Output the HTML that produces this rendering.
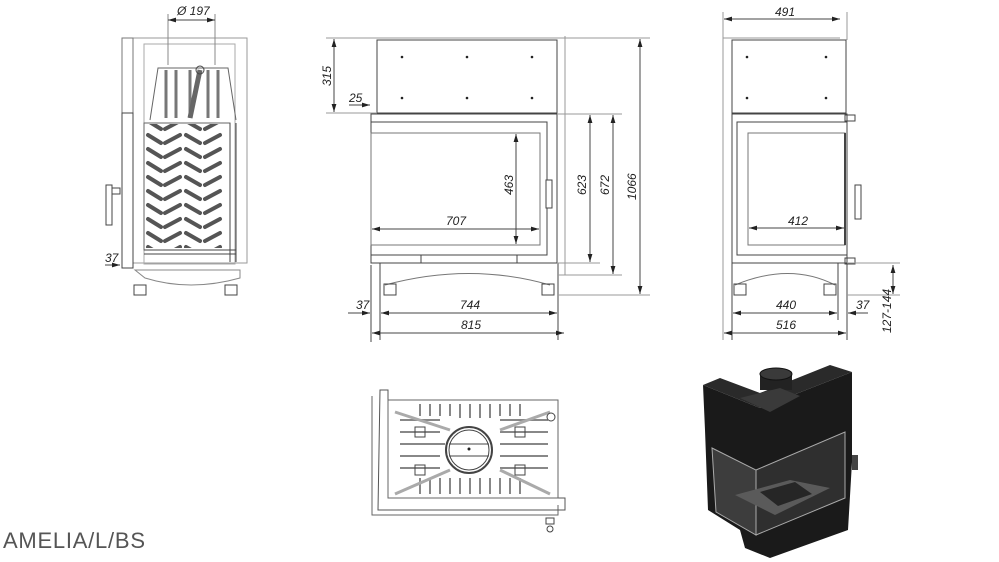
<!DOCTYPE html>
<html><head><meta charset="utf-8"><style>
html,body{margin:0;padding:0;background:#fff;width:999px;height:562px;overflow:hidden}
svg{display:block}
text{font-family:"Liberation Sans",sans-serif;font-style:italic;font-size:12px;fill:#222}
</style></head><body>
<svg width="999" height="562" viewBox="0 0 999 562" xmlns="http://www.w3.org/2000/svg">
<defs>
<marker id="a" viewBox="0 0 10 6" refX="10" refY="3" markerWidth="8" markerHeight="5" orient="auto-start-reverse"><path d="M0,0L10,3L0,6z" fill="#222"/></marker>
<pattern id="hb" x="145" y="132" width="80" height="14" patternUnits="userSpaceOnUse">
<g stroke="#555" stroke-width="4" stroke-linecap="round">
<line x1="3" y1="3" x2="16" y2="11"/><line x1="20" y1="11" x2="35" y2="3"/><line x1="41" y1="3" x2="55" y2="11"/><line x1="60" y1="11" x2="75" y2="3"/></g></pattern>
</defs>
<g fill="none" stroke="#444" stroke-width="1">
<!-- LEFT VIEW -->
<rect x="133" y="38" width="114" height="225" stroke="#999"/>
<rect x="122" y="38" width="11" height="75" stroke="#777"/>
<rect x="122" y="113" width="11" height="155"/>
<rect x="144" y="44" width="91" height="220" stroke="#aaa"/>
<line x1="168" y1="14" x2="168" y2="65" stroke="#888"/><line x1="215" y1="14" x2="215" y2="65" stroke="#888"/>
<path d="M150 120 L158 68 L228 68 L236 120" stroke="#666"/>
<g stroke="#777" stroke-width="3"><line x1="166" y1="70" x2="166" y2="118"/><line x1="176" y1="70" x2="176" y2="118"/><line x1="190" y1="70" x2="190" y2="118"/><line x1="208" y1="70" x2="208" y2="118"/><line x1="218" y1="70" x2="218" y2="118"/></g>
<line x1="200" y1="70" x2="190" y2="118" stroke="#666" stroke-width="5"/>
<circle cx="200" cy="70" r="4"/>
<rect x="144" y="123" width="86" height="127" stroke="#666"/>
<rect x="145" y="124" width="80" height="124" fill="url(#hb)" stroke="none"/>
<line x1="230" y1="123" x2="230" y2="262"/><line x1="236" y1="123" x2="236" y2="262"/>
<line x1="144" y1="250" x2="236" y2="250"/><line x1="144" y1="254" x2="236" y2="254"/>
<rect x="106" y="185" width="6" height="40" fill="#fff"/><rect x="112" y="188" width="8" height="6"/>
<path d="M135 270 L240 270 L240 278 Q190 292 145 278 Z" stroke="#888"/>
<rect x="134" y="285" width="12" height="10"/><rect x="225" y="285" width="12" height="10"/>
<line x1="105" y1="265" x2="120" y2="265" marker-end="url(#a)"/>
<line x1="168" y1="20" x2="215" y2="20" marker-start="url(#a)" marker-end="url(#a)"/>
<!-- FRONT VIEW -->
<rect x="377" y="40" width="180" height="73"/>
<line x1="565" y1="36" x2="565" y2="275" stroke="#999"/><line x1="557" y1="38" x2="565" y2="38" stroke="#999"/>
<rect x="371" y="114" width="186" height="149"/>
<rect x="371" y="122" width="176" height="133"/>
<rect x="371" y="133" width="169" height="112" stroke="#777"/>
<rect x="546" y="180" width="6" height="28" fill="#fff"/>
<rect x="421" y="255" width="96" height="8"/>
<line x1="380" y1="263" x2="380" y2="340"/><line x1="558" y1="263" x2="558" y2="340"/>
<line x1="371" y1="265" x2="371" y2="342"/>
<path d="M385 285 Q470 262 550 285" stroke="#777"/>
<rect x="384" y="284" width="12" height="11"/><rect x="542" y="284" width="12" height="11"/>
<g stroke="#999"><line x1="326" y1="38" x2="650" y2="38"/><line x1="326" y1="113" x2="377" y2="113"/><line x1="557" y1="114" x2="622" y2="114"/><line x1="557" y1="263" x2="600" y2="263"/><line x1="558" y1="275" x2="622" y2="275"/><line x1="558" y1="295" x2="650" y2="295"/></g>
<line x1="334" y1="39" x2="334" y2="112" marker-start="url(#a)" marker-end="url(#a)"/>
<line x1="590" y1="115" x2="590" y2="262" marker-start="url(#a)" marker-end="url(#a)"/>
<line x1="613" y1="115" x2="613" y2="274" marker-start="url(#a)" marker-end="url(#a)"/>
<line x1="640" y1="39" x2="640" y2="294" marker-start="url(#a)" marker-end="url(#a)"/>
<line x1="516" y1="134" x2="516" y2="244" marker-start="url(#a)" marker-end="url(#a)"/>
<line x1="372" y1="229" x2="539" y2="229" marker-start="url(#a)" marker-end="url(#a)"/>
<line x1="349" y1="105" x2="370" y2="105" marker-end="url(#a)"/>
<line x1="348" y1="313" x2="370" y2="313" marker-end="url(#a)"/>
<line x1="381" y1="313" x2="557" y2="313" marker-start="url(#a)" marker-end="url(#a)"/>
<line x1="372" y1="333" x2="564" y2="333" marker-start="url(#a)" marker-end="url(#a)"/>
<!-- SIDE VIEW -->
<rect x="732" y="40" width="114" height="73"/>
<line x1="723" y1="12" x2="723" y2="340" stroke="#999"/><line x1="847" y1="12" x2="847" y2="40" stroke="#999"/>
<line x1="723" y1="38" x2="840" y2="38" stroke="#999"/>
<rect x="732" y="114" width="115" height="149"/>
<rect x="737" y="122" width="110" height="133"/>
<rect x="748" y="133" width="97" height="112" stroke="#777"/>
<line x1="845" y1="133" x2="845" y2="245" stroke-width="2"/>
<rect x="855" y="185" width="6" height="34" fill="#fff"/>
<rect x="845" y="115" width="10" height="6"/><rect x="845" y="258" width="10" height="6"/>
<path d="M735 285 Q790 262 835 285" stroke="#777"/>
<rect x="734" y="284" width="12" height="11"/><rect x="824" y="284" width="12" height="11"/>
<line x1="732" y1="263" x2="732" y2="340"/><line x1="838" y1="263" x2="838" y2="320"/><line x1="847" y1="263" x2="847" y2="340"/>
<g stroke="#999"><line x1="847" y1="263" x2="900" y2="263"/><line x1="847" y1="295" x2="900" y2="295"/></g>
<line x1="724" y1="19" x2="840" y2="19" marker-start="url(#a)" marker-end="url(#a)"/>
<line x1="749" y1="228" x2="844" y2="228" marker-start="url(#a)" marker-end="url(#a)"/>
<line x1="733" y1="313" x2="837" y2="313" marker-start="url(#a)" marker-end="url(#a)"/>
<line x1="868" y1="313" x2="848" y2="313" marker-end="url(#a)"/>
<line x1="724" y1="333" x2="846" y2="333" marker-start="url(#a)" marker-end="url(#a)"/>
<line x1="893" y1="265" x2="893" y2="294" marker-start="url(#a)" marker-end="url(#a)"/>
<!-- BOTTOM VIEW -->
<path d="M372 396 L372 515 L558 515 L558 505" stroke="#666"/>
<path d="M380 390 L388 390 L388 498 L565 498 L565 510 L378 510 Z" stroke="#555"/>
<rect x="388" y="400" width="170" height="98" stroke="#666"/>
<g stroke="#888" stroke-width="2">
<line x1="400" y1="420" x2="440" y2="420"/><line x1="400" y1="432" x2="440" y2="432"/><line x1="400" y1="444" x2="445" y2="444"/><line x1="400" y1="456" x2="440" y2="456"/><line x1="400" y1="468" x2="440" y2="468"/>
<line x1="500" y1="420" x2="548" y2="420"/><line x1="500" y1="432" x2="548" y2="432"/><line x1="500" y1="444" x2="548" y2="444"/><line x1="500" y1="456" x2="548" y2="456"/><line x1="500" y1="468" x2="548" y2="468"/>
<line x1="420" y1="404" x2="420" y2="416"/><line x1="430" y1="404" x2="430" y2="416"/><line x1="440" y1="404" x2="440" y2="416"/><line x1="450" y1="404" x2="450" y2="416"/><line x1="460" y1="404" x2="460" y2="418"/><line x1="470" y1="404" x2="470" y2="418"/><line x1="480" y1="404" x2="480" y2="418"/><line x1="490" y1="404" x2="490" y2="418"/><line x1="500" y1="404" x2="500" y2="416"/><line x1="510" y1="404" x2="510" y2="416"/><line x1="520" y1="404" x2="520" y2="416"/>
<line x1="420" y1="478" x2="420" y2="494"/><line x1="430" y1="478" x2="430" y2="494"/><line x1="440" y1="478" x2="440" y2="494"/><line x1="450" y1="478" x2="450" y2="494"/><line x1="460" y1="478" x2="460" y2="494"/><line x1="470" y1="478" x2="470" y2="494"/><line x1="480" y1="478" x2="480" y2="494"/><line x1="490" y1="478" x2="490" y2="494"/><line x1="500" y1="478" x2="500" y2="494"/><line x1="510" y1="478" x2="510" y2="494"/><line x1="520" y1="478" x2="520" y2="494"/></g>
<g stroke="#aaa" stroke-width="3"><line x1="395" y1="412" x2="450" y2="430"/><line x1="550" y1="412" x2="500" y2="430"/><line x1="395" y1="494" x2="450" y2="470"/><line x1="550" y1="494" x2="500" y2="470"/></g>
<circle cx="469" cy="450" r="23" stroke-width="2" fill="#fff"/><circle cx="469" cy="450" r="20"/>
<line x1="449" y1="444" x2="489" y2="444"/><line x1="449" y1="456" x2="489" y2="456"/>
<rect x="415" y="427" width="10" height="10"/><rect x="515" y="427" width="10" height="10"/><rect x="415" y="465" width="10" height="10"/><rect x="515" y="465" width="10" height="10"/>
<circle cx="551" cy="417" r="4"/><circle cx="550" cy="529" r="3"/><rect x="546" y="518" width="8" height="6"/>
</g>
<circle cx="469" cy="449" r="1.5" fill="#222"/>
<g fill="#222">
<circle cx="402" cy="57" r="1.3"/><circle cx="467" cy="57" r="1.3"/><circle cx="532" cy="57" r="1.3"/><circle cx="402" cy="98" r="1.3"/><circle cx="467" cy="98" r="1.3"/><circle cx="532" cy="98" r="1.3"/>
<circle cx="747" cy="57" r="1.3"/><circle cx="826" cy="57" r="1.3"/><circle cx="747" cy="98" r="1.3"/><circle cx="826" cy="98" r="1.3"/>
</g>
<!-- ISO -->
<g>
<polygon points="703,385 760,408 852,372 852,462 848,530 770,558 745,548 740,530 708,510 705,430" fill="#1a1a1a"/>
<polygon points="703,385 760,408 852,372 830,365 760,393 720,378" fill="#2a2a2a"/>
<rect x="760" y="374" width="32" height="16" fill="#222"/>
<ellipse cx="776" cy="374" rx="16" ry="6" fill="#3a3a3a" stroke="#111"/>
<polygon points="740,398 770,412 800,396 780,388" fill="#3a3a3a"/>
<polygon points="712,448 756,470 756,535 716,512" fill="#3d3d3d" stroke="#aaa" stroke-width="1"/>
<polygon points="756,470 845,432 845,498 756,535" fill="#2f2f2f" stroke="#aaa" stroke-width="1"/>
<polygon points="735,495 790,480 830,488 775,515" fill="#5a5a5a"/>
<polygon points="760,492 795,482 812,494 778,506" fill="#262626"/>
<rect x="852" y="455" width="6" height="15" fill="#444"/>
</g>
<!-- labels -->
<text x="177" y="15">Ø 197</text>
<text x="105" y="262">37</text>
<text transform="translate(331,86) rotate(-90)">315</text>
<text x="349" y="102">25</text>
<text transform="translate(513,195) rotate(-90)">463</text>
<text x="446" y="225">707</text>
<text transform="translate(586,195) rotate(-90)">623</text>
<text transform="translate(609,195) rotate(-90)">672</text>
<text transform="translate(636,200) rotate(-90)">1066</text>
<text x="356" y="309">37</text>
<text x="460" y="309">744</text>
<text x="461" y="329">815</text>
<text x="775" y="16">491</text>
<text x="788" y="225">412</text>
<text x="776" y="309">440</text>
<text x="856" y="309">37</text>
<text x="776" y="329">516</text>
<text transform="translate(891,333) rotate(-90)">127-144</text>
<text x="3" y="548" style="font-style:normal;font-size:22px;fill:#555" textLength="142">AMELIA/L/BS</text>
</svg>
</body></html>
